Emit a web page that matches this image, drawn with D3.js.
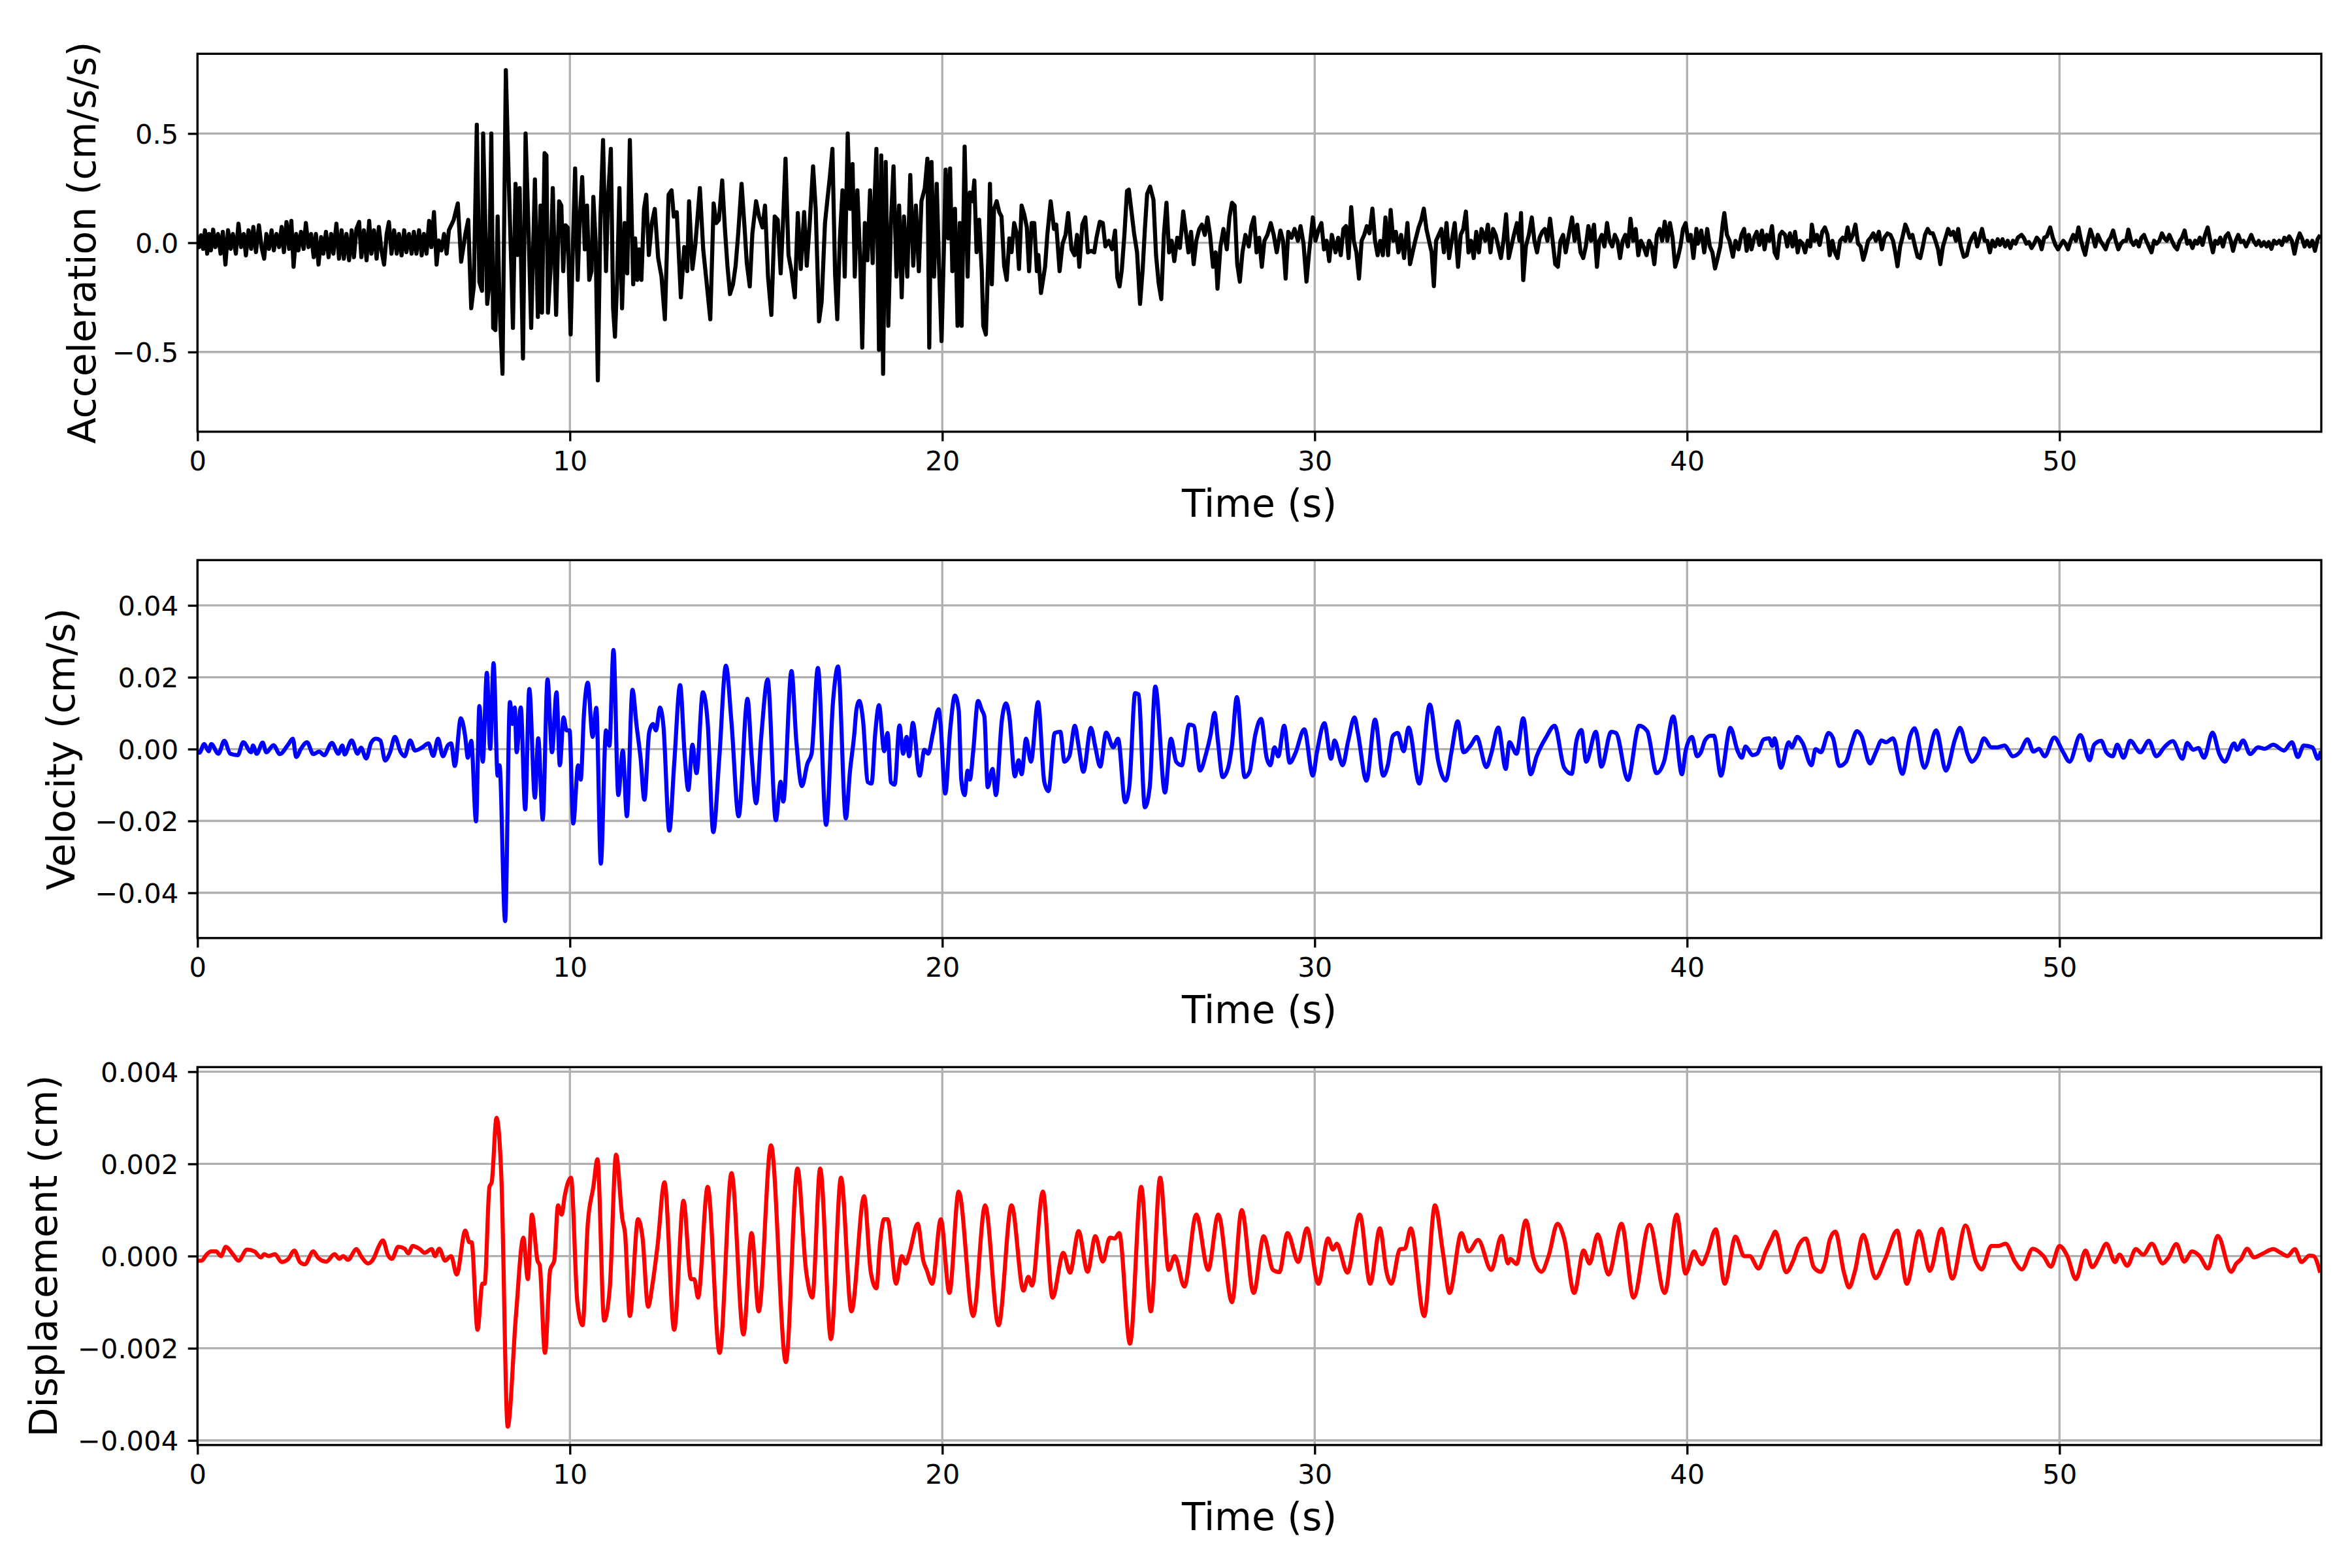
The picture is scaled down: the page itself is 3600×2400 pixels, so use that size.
<!DOCTYPE html>
<html>
<head>
<meta charset="utf-8">
<script src="https://cdnjs.cloudflare.com/ajax/libs/d3/7.8.5/d3.min.js"></script>
<style>
  body { margin: 0; background: #ffffff; }
  text { font-family: "DejaVu Sans", sans-serif; }
</style>
</head>
<body>
<div id="chart"></div>
<script>
// ---- data, [time (s), value] ----

var timeTicks = [0, 10, 20, 30, 40, 50];
var timeMax = 57.03;

var accTicks = [-0.5, 0, 0.5];
var accLimit = 0.865;
var velTicks = [-0.04, -0.02, 0, 0.02, 0.04];
var velLimit = 0.0526;
var dispTicks = [-0.004, -0.002, 0, 0.002, 0.004];
var dispLimit = 0.0041;

// acceleration, pre-event noise
var accPre = [[0,0],[0.04,-0.02],[0.09,0.034],[0.15,-0.028],[0.2,0.057],[0.26,-0.05],[0.31,0.04],[0.36,-0.035],[0.42,0.06],[0.48,-0.02],[0.55,0.04],[0.62,-0.05],[0.68,0.05],[0.75,-0.1],[0.82,0.057],[0.89,-0.028],[0.95,0.04],[1.03,-0.05],[1.1,0.087],[1.17,-0.02],[1.24,0.04],[1.3,-0.058],[1.37,0.057],[1.44,-0.028],[1.5,0.072],[1.57,-0.043],[1.65,0.08],[1.72,-0.02],[1.79,-0.073],[1.85,0.04],[1.92,-0.028],[1.99,0.057],[2.05,-0.035],[2.12,0.04],[2.19,-0.02],[2.26,0.072],[2.32,-0.043],[2.39,0.095],[2.46,-0.028],[2.52,0.1],[2.58,-0.11],[2.65,0.04],[2.71,-0.035],[2.78,0.05],[2.85,-0.028],[2.91,0.09],[2.98,-0.02],[3.05,0.04],[3.12,-0.066],[3.18,0.04],[3.25,-0.1],[3.32,0.026],[3.38,-0.05],[3.45,0.05],[3.52,-0.066],[3.59,0.04],[3.65,-0.05],[3.73,0.087],[3.8,-0.073],[3.87,0.057],[3.93,-0.073],[4.0,0.04],[4.07,-0.08],[4.14,0.057],[4.2,-0.066],[4.27,0.064],[4.34,0.095],[4.4,-0.066],[4.47,0.057],[4.54,-0.08],[4.61,0.1],[4.67,-0.05],[4.74,0.057],[4.81,-0.073],[4.87,0.072],[4.94,-0.035],[5.01,-0.1],[5.08,0.04],[5.14,0.095],[5.21,-0.05],[5.28,0.057],[5.35,-0.05],[5.41,0.04],[5.48,-0.058],[5.55,0.057],[5.61,-0.043],[5.68,0.04],[5.75,-0.05],[5.81,0.05],[5.88,-0.05],[5.95,0.057],[6.02,-0.058],[6.08,0.04],[6.15,-0.05],[6.22,0.1],[6.28,-0.02],[6.35,0.14],[6.42,-0.1],[6.48,0.01],[6.55,-0.035],[6.62,0.04],[6.69,-0.05],[6.75,0.057]];

// acceleration, strong motion
var accMain = [[6.88,0.105],[6.99,0.18],[7.08,-0.087],[7.19,0.037],[7.27,0.105],[7.35,-0.3],[7.42,-0.2],[7.5,0.54],[7.57,-0.18],[7.64,-0.22],[7.67,0.5],[7.78,-0.28],[7.83,-0.2],[7.89,0.5],[7.94,-0.39],[8.0,-0.4],[8.06,0.12],[8.11,-0.28],[8.19,-0.6],[8.28,0.79],[8.36,0.27],[8.43,-0.13],[8.47,-0.39],[8.54,0.27],[8.59,-0.056],[8.65,0.25],[8.74,-0.53],[8.81,0.5],[8.9,-0.006],[8.96,-0.39],[9.06,0.29],[9.14,-0.34],[9.21,0.17],[9.25,-0.32],[9.32,0.41],[9.37,0.4],[9.41,-0.32],[9.48,-0.12],[9.54,0.25],[9.63,-0.33],[9.71,0.19],[9.77,0.17],[9.82,-0.13],[9.88,0.08],[9.94,0.07],[10.02,-0.42],[10.07,-0.08],[10.14,0.34],[10.21,-0.17],[10.26,0.09],[10.33,0.3],[10.4,-0.03],[10.46,0.17],[10.52,-0.17],[10.58,-0.13],[10.63,0.21],[10.69,0.006],[10.75,-0.63],[10.82,0.12],[10.89,0.47],[10.97,-0.13],[11.02,0.19],[11.1,0.43],[11.16,-0.3],[11.21,-0.43],[11.27,-0.17],[11.33,0.25],[11.4,-0.3],[11.47,0.09],[11.54,-0.14],[11.61,0.47],[11.7,-0.19],[11.75,0.02],[11.81,-0.17],[11.86,-0.03],[11.92,-0.17],[11.99,0.155],[12.05,0.22],[12.12,-0.056],[12.2,0.09],[12.28,0.155],[12.37,-0.07],[12.46,-0.155],[12.55,-0.35],[12.65,0.22],[12.73,0.24],[12.79,0.12],[12.87,0.14],[12.98,-0.25],[13.07,-0.02],[13.15,-0.13],[13.2,0.19],[13.29,-0.12],[13.37,-0.006],[13.49,0.25],[13.58,-0.03],[13.67,-0.18],[13.77,-0.35],[13.86,0.18],[13.93,0.09],[14.0,0.105],[14.09,0.285],[14.16,0.07],[14.23,-0.105],[14.3,-0.235],[14.38,-0.19],[14.45,-0.105],[14.52,0.043],[14.61,0.27],[14.69,0.07],[14.75,-0.093],[14.83,-0.2],[14.9,0.043],[15.0,0.19],[15.08,0.12],[15.17,0.07],[15.24,0.17],[15.32,-0.155],[15.41,-0.33],[15.5,0.12],[15.58,0.105],[15.66,-0.14],[15.73,0.12],[15.79,0.385],[15.87,-0.056],[15.95,-0.13],[16.04,-0.25],[16.12,0.136],[16.2,-0.12],[16.29,0.14],[16.36,-0.105],[16.44,0.09],[16.53,0.35],[16.6,0.155],[16.69,-0.36],[16.76,-0.27],[16.85,0.09],[16.91,0.19],[16.98,0.3],[17.05,0.43],[17.12,-0.14],[17.18,-0.35],[17.25,0.02],[17.32,0.24],[17.38,-0.155],[17.46,0.5],[17.52,0.155],[17.59,0.36],[17.65,-0.155],[17.72,0.24],[17.79,-0.056],[17.85,-0.48],[17.92,0.09],[17.99,-0.08],[18.06,0.24],[18.13,-0.093],[18.19,0.24],[18.23,0.43],[18.3,-0.49],[18.36,0.4],[18.41,-0.6],[18.48,0.37],[18.55,-0.38],[18.62,0.09],[18.69,0.35],[18.77,-0.155],[18.84,0.17],[18.91,-0.25],[18.97,0.12],[19.06,-0.155],[19.14,0.31],[19.22,-0.105],[19.29,0.17],[19.37,-0.13],[19.44,0.19],[19.53,0.25],[19.6,0.385],[19.65,-0.48],[19.71,0.37],[19.78,-0.155],[19.85,0.27],[19.91,-0.093],[19.98,-0.45],[20.05,0.02],[20.09,0.335],[20.16,0.02],[20.21,0.34],[20.27,-0.13],[20.34,0.155],[20.41,-0.38],[20.47,0.09],[20.52,-0.38],[20.6,0.44],[20.68,-0.155],[20.74,0.23],[20.81,0.19],[20.86,0.285],[20.92,-0.043],[20.99,0.105],[21.06,-0.13],[21.1,-0.38],[21.17,-0.42],[21.24,-0.043],[21.28,0.27],[21.33,-0.19],[21.39,0.155],[21.46,0.19],[21.53,0.14],[21.59,0.12],[21.66,-0.105],[21.73,-0.17],[21.8,0.02],[21.86,-0.043],[21.93,0.09],[22.0,0.043],[22.06,-0.12],[22.13,0.17],[22.2,0.13],[22.27,0.07],[22.33,-0.13],[22.4,0.09],[22.47,0.09],[22.54,-0.13],[22.58,-0.056],[22.65,-0.23]];

// acceleration, coda 22.7 - 40 s
var accCoda = [[22.76,-0.11],[22.82,0.036],[22.91,0.19],[23.0,0.063],[23.06,0.083],[23.15,-0.13],[23.23,-0.004],[23.31,0.036],[23.38,0.136],[23.47,-0.03],[23.55,-0.057],[23.62,0.036],[23.68,-0.11],[23.76,0.083],[23.84,0.116],[23.91,-0.044],[24.0,-0.037],[24.08,-0.044],[24.14,0.023],[24.23,0.096],[24.31,0.09],[24.38,-0.017],[24.47,0.009],[24.56,-0.03],[24.64,0.056],[24.7,-0.16],[24.76,-0.2],[24.82,-0.124],[24.89,0.036],[24.96,0.237],[25.01,0.243],[25.08,0.143],[25.15,0.043],[25.23,-0.044],[25.31,-0.28],[25.38,-0.124],[25.44,0.063],[25.5,0.223],[25.58,0.257],[25.67,0.197],[25.74,-0.057],[25.81,-0.185],[25.88,-0.258],[25.95,0.036],[26.02,0.183],[26.09,-0.044],[26.16,0.009],[26.23,-0.084],[26.31,0.023],[26.38,-0.024],[26.47,0.143],[26.54,0.05],[26.61,-0.044],[26.68,0.05],[26.75,-0.098],[26.82,0.009],[26.9,0.063],[26.97,0.083],[27.05,0.036],[27.12,0.116],[27.19,0.036],[27.27,-0.11],[27.34,-0.044],[27.39,-0.21],[27.47,-0.017],[27.55,0.063],[27.64,-0.03],[27.71,0.116],[27.78,0.183],[27.85,0.17],[27.92,-0.098],[27.99,-0.178],[28.06,-0.044],[28.14,0.036],[28.23,-0.017],[28.3,0.076],[28.37,0.116],[28.44,-0.044],[28.51,0.023],[28.58,-0.11],[28.65,0.009],[28.73,0.036],[28.82,0.09],[28.9,0.036],[28.98,-0.044],[29.08,0.056],[29.15,0.009],[29.22,-0.164],[29.29,0.05],[29.38,0.023],[29.46,0.063],[29.55,0.009],[29.62,0.076],[29.7,-0.004],[29.78,-0.178],[29.85,-0.044],[29.95,0.116],[30.02,0.009],[30.11,0.063],[30.18,0.09],[30.25,-0.03],[30.32,0.009],[30.39,-0.084],[30.46,0.036],[30.56,-0.044],[30.63,0.023],[30.7,-0.057],[30.77,0.063],[30.84,0.076],[30.91,-0.07],[30.98,0.163],[31.05,0.009],[31.12,-0.044],[31.19,-0.164],[31.26,0.009],[31.33,0.036],[31.4,0.076],[31.47,0.043],[31.55,0.156],[31.62,0.009],[31.69,-0.057],[31.76,0.009],[31.83,-0.057],[31.9,0.116],[31.97,-0.057],[32.04,0.15],[32.11,0.009],[32.18,0.05],[32.25,-0.044],[32.32,0.036],[32.4,-0.07],[32.49,0.09],[32.56,-0.098],[32.63,-0.044],[32.7,0.009],[32.79,0.07],[32.86,0.103],[32.93,0.156],[33.0,0.063],[33.07,0.009],[33.14,-0.044],[33.2,-0.198],[33.26,0.009],[33.33,0.036],[33.4,0.063],[33.47,-0.044],[33.54,0.09],[33.61,-0.07],[33.68,0.009],[33.76,0.09],[33.85,-0.11],[33.92,0.036],[33.99,0.063],[34.06,0.143],[34.13,-0.044],[34.2,0.009],[34.27,-0.07],[34.34,0.05],[34.41,-0.044],[34.48,0.063],[34.58,0.009],[34.65,0.083],[34.72,-0.044],[34.79,0.063],[34.86,0.036],[34.93,-0.017],[35.0,-0.07],[35.07,0.009],[35.14,0.13],[35.21,-0.07],[35.28,-0.017],[35.35,0.036],[35.43,0.09],[35.5,0.009],[35.54,0.136],[35.6,-0.171],[35.67,-0.017],[35.75,0.036],[35.83,0.116],[35.9,0.009],[35.97,-0.044],[36.04,0.023],[36.11,0.05],[36.18,0.063],[36.25,0.009],[36.32,0.11],[36.39,0.009],[36.46,-0.098],[36.53,-0.11],[36.6,0.009],[36.67,0.036],[36.74,-0.044],[36.81,0.023],[36.91,0.116],[36.98,0.009],[37.05,0.083],[37.14,-0.044],[37.21,-0.07],[37.28,-0.017],[37.35,0.076],[37.42,0.009],[37.5,0.083],[37.58,-0.11],[37.64,0.009],[37.71,0.036],[37.78,-0.017],[37.85,0.09],[37.92,0.009],[37.99,-0.017],[38.06,0.036],[38.13,0.009],[38.2,-0.07],[38.27,0.009],[38.34,0.036],[38.41,-0.017],[38.48,0.11],[38.55,0.009],[38.62,0.063],[38.69,-0.057],[38.76,0.009],[38.83,-0.017],[38.91,-0.057],[38.98,0.009],[39.05,-0.017],[39.12,-0.098],[39.19,0.036],[39.26,0.063],[39.33,0.009],[39.4,0.096],[39.47,0.009],[39.54,0.09],[39.61,0.023],[39.68,-0.11],[39.75,-0.07],[39.82,-0.017],[39.89,0.063],[39.96,0.09],[40.03,0.009],[40.1,0.036],[40.17,-0.07],[40.25,0.063]];

// acceleration, tail 40 - 57 s
var accTail = [[40.29,-0.004],[40.38,0.056],[40.46,-0.044],[40.54,0.063],[40.61,-0.017],[40.68,-0.044],[40.75,-0.118],[40.82,-0.07],[40.89,-0.017],[40.96,0.09],[41.0,0.136],[41.07,0.036],[41.14,0.009],[41.23,-0.064],[41.3,0.009],[41.38,-0.03],[41.46,0.036],[41.53,0.063],[41.6,-0.037],[41.66,0.036],[41.73,-0.03],[41.8,0.023],[41.87,0.05],[41.94,-0.01],[42.01,0.056],[42.08,-0.03],[42.14,0.036],[42.21,0.009],[42.28,0.076],[42.35,-0.044],[42.42,-0.07],[42.49,0.036],[42.55,0.05],[42.63,0.036],[42.69,-0.017],[42.76,0.043],[42.83,-0.017],[42.9,0.05],[42.97,-0.044],[43.03,0.009],[43.1,-0.004],[43.17,-0.044],[43.24,0.009],[43.31,-0.017],[43.35,0.083],[43.42,0.009],[43.49,0.036],[43.56,-0.01],[43.63,0.05],[43.7,0.07],[43.77,0.036],[43.83,-0.057],[43.9,0.009],[43.97,-0.044],[44.04,-0.07],[44.11,0.009],[44.18,0.023],[44.25,0.009],[44.31,0.07],[44.38,0.009],[44.45,0.036],[44.52,0.083],[44.59,-0.004],[44.66,-0.017],[44.73,-0.078],[44.79,-0.044],[44.86,0.009],[44.93,0.023],[45.0,0.043],[45.07,0.009],[45.15,0.05],[45.23,-0.03],[45.3,0.023],[45.38,0.043],[45.46,0.036],[45.53,0.009],[45.59,-0.044],[45.65,-0.108],[45.72,-0.017],[45.78,0.023],[45.86,0.083],[45.91,0.063],[45.98,0.023],[46.05,0.036],[46.12,-0.017],[46.19,-0.064],[46.26,-0.07],[46.33,-0.017],[46.39,0.036],[46.46,0.063],[46.53,0.043],[46.6,0.043],[46.67,0.009],[46.74,-0.03],[46.8,-0.098],[46.87,-0.017],[46.94,0.023],[47.01,0.063],[47.08,0.036],[47.15,0.05],[47.22,0.009],[47.28,0.063],[47.35,-0.017],[47.43,-0.064],[47.51,-0.057],[47.58,-0.004],[47.65,0.023],[47.72,0.043],[47.79,-0.017],[47.86,0.023],[47.92,0.063],[47.99,0.009],[48.06,0.009],[48.13,-0.044],[48.2,0.009],[48.27,-0.017],[48.34,0.016],[48.4,-0.01],[48.47,0.016],[48.54,-0.017],[48.61,0.009],[48.68,-0.024],[48.75,0.009],[48.82,-0.004],[48.88,0.023],[48.98,0.036],[49.04,0.023],[49.11,-0.004],[49.18,0.003],[49.25,-0.024],[49.32,-0.004],[49.39,0.023],[49.46,0.009],[49.52,-0.03],[49.59,0.023],[49.66,0.029],[49.75,0.07],[49.82,0.023],[49.89,-0.01],[49.96,-0.03],[50.03,-0.01],[50.1,0.009],[50.16,-0.004],[50.23,-0.03],[50.3,0.009],[50.37,0.036],[50.44,0.009],[50.51,0.07],[50.58,0.009],[50.64,-0.03],[50.69,-0.055],[50.76,0.009],[50.83,0.06],[50.9,0.023],[50.96,-0.017],[51.03,0.036],[51.1,0.009],[51.17,-0.01],[51.24,-0.03],[51.31,0.009],[51.37,0.023],[51.44,0.056],[51.51,0.009],[51.58,-0.03],[51.65,-0.004],[51.72,0.009],[51.79,0.009],[51.85,0.06],[51.92,0.009],[51.99,-0.01],[52.06,0.009],[52.13,-0.017],[52.2,0.023],[52.27,0.036],[52.33,0.009],[52.4,-0.017],[52.47,-0.044],[52.54,0.009],[52.61,-0.004],[52.68,0.009],[52.75,0.043],[52.81,0.023],[52.88,0.009],[52.95,0.036],[53.02,0.009],[53.09,-0.017],[53.16,-0.03],[53.23,0.009],[53.29,0.023],[53.36,0.056],[53.43,-0.004],[53.5,0.009],[53.57,-0.024],[53.64,0.009],[53.7,-0.004],[53.77,0.023],[53.84,-0.01],[53.91,0.036],[53.98,0.07],[54.05,0.009],[54.12,-0.044],[54.18,0.009],[54.25,-0.004],[54.32,0.023],[54.39,-0.017],[54.46,0.029],[54.53,0.043],[54.6,0.009],[54.66,-0.037],[54.73,0.009],[54.8,0.036],[54.87,0.003],[54.94,0.009],[55.01,-0.017],[55.08,0.009],[55.15,0.036],[55.21,0.009],[55.28,-0.01],[55.35,0.009],[55.42,-0.015],[55.49,0.003],[55.56,-0.017],[55.62,0.003],[55.69,-0.028],[55.76,0.009],[55.83,-0.004],[55.9,0.009],[55.97,-0.01],[56.04,0.023],[56.1,0.009],[56.17,0.029],[56.24,0.009],[56.31,-0.05],[56.38,0.009],[56.45,0.043],[56.52,0.016],[56.58,-0.017],[56.65,0.009],[56.72,-0.017],[56.79,0.009],[56.86,-0.037],[56.93,0.016],[57.0,0.036]];

// velocity 0 - 20 s
var velEarly = [[0,-0.0005],[0.05,-0.001],[0.18,0.0014],[0.3,-0.0006],[0.37,0.0014],[0.56,-0.0013],[0.72,0.0023],[0.88,-0.0013],[1.08,-0.0017],[1.23,0.0019],[1.44,-0.0009],[1.49,0.001],[1.59,-0.0013],[1.75,0.0018],[1.85,-0.0009],[2.04,0.0011],[2.21,-0.0014],[2.43,0.0012],[2.56,0.0029],[2.65,-0.0022],[2.78,0.0001],[2.94,0.0019],[3.11,-0.0014],[3.27,-0.0007],[3.4,-0.0017],[3.61,0.0017],[3.78,-0.0013],[3.89,0.001],[3.95,-0.0015],[4.14,0.0024],[4.3,-0.0013],[4.39,0.0004],[4.53,-0.0026],[4.66,0.0017],[4.79,0.0029],[4.91,0.0024],[5.04,-0.0032],[5.17,-0.0009],[5.3,0.0034],[5.46,-0.0009],[5.56,-0.002],[5.71,0.0024],[5.84,-0.0004],[6.04,0.0005],[6.2,0.0016],[6.33,-0.0019],[6.46,0.0029],[6.59,-0.002],[6.72,0.001],[6.81,0.0016],[6.91,-0.0047],[7.07,0.0086],[7.19,0.0034],[7.26,-0.0024],[7.35,0.0023],[7.48,-0.0201],[7.57,0.012],[7.66,-0.0035],[7.77,0.0212],[7.86,0.0001],[7.95,0.0239],[8.06,-0.0074],[8.11,-0.0045],[8.26,-0.0479],[8.39,0.0131],[8.46,0.007],[8.52,0.0116],[8.57,-0.0009],[8.68,0.0116],[8.8,-0.0168],[8.91,0.0167],[9.06,-0.0135],[9.15,0.003],[9.27,-0.0196],[9.4,0.0194],[9.52,-0.0009],[9.64,0.0158],[9.73,-0.0045],[9.83,0.0088],[9.91,0.0052],[9.99,0.0052],[10.09,-0.0207],[10.22,-0.0045],[10.29,-0.0085],[10.38,0.0102],[10.48,0.0185],[10.61,0.0034],[10.71,0.0115],[10.83,-0.0319],[10.97,0.0052],[11.06,0.0009],[11.17,0.0276],[11.3,-0.0128],[11.42,-0.0004],[11.53,-0.0187],[11.68,0.0165],[11.79,0.0066],[11.9,-0.0027],[12.0,-0.0141],[12.13,0.0048],[12.23,0.007],[12.31,0.0052],[12.42,0.0116],[12.51,0.0066],[12.67,-0.0227],[12.8,-0.0042],[12.96,0.0178],[13.08,-0.0013],[13.18,-0.0114],[13.29,0.0012],[13.4,-0.0067],[13.57,0.0158],[13.7,0.0073],[13.85,-0.0231],[14.01,-0.0027],[14.19,0.0232],[14.34,0.0073],[14.53,-0.0187],[14.77,0.014],[14.88,-0.002],[15.0,-0.0151],[15.14,0.0037],[15.31,0.0194],[15.53,-0.0198],[15.66,-0.0091],[15.73,-0.0146],[15.95,0.0217],[16.08,0.0023],[16.23,-0.0103],[16.38,-0.004],[16.49,-0.0013],[16.66,0.0226],[16.88,-0.0211],[17.07,0.0138],[17.2,0.023],[17.41,-0.0193],[17.52,-0.0063],[17.64,0.0045],[17.69,0.0106],[17.77,0.0134],[17.87,0.0081],[18.0,-0.0092],[18.1,-0.0096],[18.2,0.0045],[18.3,0.0122],[18.44,-0.0006],[18.53,0.0045],[18.62,-0.0092],[18.72,-0.0099],[18.85,0.0066],[18.95,-0.0013],[19.04,0.0034],[19.11,-0.002],[19.21,0.0073],[19.39,-0.0074],[19.52,-0.0002],[19.62,-0.0013],[19.75,0.0045],[19.9,0.0111],[19.95,0.0073]];

// velocity 20 - 57 s
var velLate = [[20.08,-0.0124],[20.21,0.0052],[20.34,0.0149],[20.44,0.0109],[20.51,-0.0085],[20.6,-0.0128],[20.68,-0.006],[20.74,-0.0085],[20.83,-0.0006],[20.96,0.0134],[21.06,0.0109],[21.13,0.0091],[21.22,-0.0106],[21.35,-0.0055],[21.44,-0.0128],[21.6,0.0081],[21.71,0.0127],[21.8,0.0091],[21.95,-0.0076],[22.05,-0.0031],[22.13,-0.007],[22.25,0.0029],[22.38,-0.0035],[22.57,0.0131],[22.74,-0.0092],[22.85,-0.0117],[23.02,0.0045],[23.17,0.0048],[23.28,-0.0035],[23.41,-0.002],[23.56,0.0065],[23.66,0.0009],[23.79,-0.0063],[23.99,0.0059],[24.11,0.0005],[24.24,-0.0049],[24.4,0.0046],[24.59,0.0005],[24.72,0.0029],[24.91,-0.0148],[25.02,-0.0106],[25.18,0.0156],[25.27,0.0152],[25.44,-0.0162],[25.57,-0.0106],[25.72,0.0174],[25.98,-0.0121],[26.14,0.0029],[26.28,-0.0035],[26.43,-0.0045],[26.63,0.0068],[26.75,0.0065],[26.92,-0.006],[27.08,-0.0014],[27.2,0.0037],[27.31,0.0101],[27.4,0.0023],[27.53,-0.0078],[27.68,-0.005],[27.78,0.0012],[27.91,0.0145],[28.12,-0.0078],[28.25,-0.0063],[28.4,0.0037],[28.56,0.0084],[28.71,-0.0024],[28.81,-0.0045],[28.92,0.0005],[29.02,-0.002],[29.18,0.0065],[29.33,-0.0038],[29.48,-0.0012],[29.72,0.0055],[29.95,-0.0074],[30.06,-0.0009],[30.26,0.0072],[30.44,-0.0027],[30.53,0.0024],[30.75,-0.0045],[30.9,0.0023],[31.07,0.0088],[31.16,0.0045],[31.39,-0.0088],[31.62,0.0082],[31.84,-0.0074],[31.97,-0.0042],[32.1,0.0037],[32.23,0.0045],[32.39,-0.0006],[32.52,0.006],[32.81,-0.0096],[33.09,0.0124],[33.32,-0.0035],[33.52,-0.0088],[33.67,-0.0009],[33.84,0.0077],[34.0,-0.0009],[34.2,0.0012],[34.35,0.0034],[34.61,-0.005],[34.74,-0.0013],[34.93,0.006],[35.13,-0.0055],[35.23,0.0019],[35.42,-0.0013],[35.6,0.0086],[35.8,-0.007],[35.96,-0.002],[36.22,0.0034],[36.44,0.0065],[36.7,-0.0052],[36.9,-0.0069],[37.03,0.0023],[37.16,0.0053],[37.29,-0.0035],[37.55,0.0048],[37.7,-0.0049],[37.96,0.0048],[38.09,0.0045],[38.41,-0.0086],[38.71,0.0065],[38.93,0.005],[39.18,-0.0067],[39.38,-0.0035],[39.63,0.0091],[39.86,-0.007],[39.96,-0.0006],[40.13,0.0034],[40.27,-0.002],[40.37,-0.0009],[40.48,0.0024],[40.63,0.0037],[40.72,0.0037],[40.91,-0.0074],[41.16,0.0059],[41.36,-0.0006],[41.47,-0.0024],[41.57,0.0007],[41.76,-0.0017],[41.88,-0.0013],[42.06,0.0027],[42.2,0.003],[42.29,0.0009],[42.35,0.003],[42.52,-0.0052],[42.73,0.0019],[42.81,0.0005],[42.96,0.0034],[43.1,0.0017],[43.34,-0.0045],[43.45,0.0],[43.59,-0.0009],[43.8,0.0045],[43.92,0.003],[44.09,-0.0047],[44.27,-0.0035],[44.41,0.0012],[44.56,0.005],[44.68,0.0037],[44.91,-0.004],[45.08,-0.0006],[45.22,0.0024],[45.34,0.0019],[45.53,0.003],[45.78,-0.0069],[45.99,0.0037],[46.11,0.0058],[46.37,-0.0052],[46.69,0.0052],[46.95,-0.006],[47.2,0.0029],[47.33,0.0059],[47.53,-0.0013],[47.65,-0.0035],[47.82,-0.0013],[47.97,0.003],[48.17,0.0005],[48.34,0.0005],[48.52,0.001],[48.75,-0.002],[48.93,-0.0009],[49.14,0.0027],[49.3,-0.0007],[49.45,0.0001],[49.6,-0.002],[49.86,0.0032],[50.09,-0.0007],[50.27,-0.0035],[50.56,0.0039],[50.81,-0.0031],[50.93,0.0012],[51.12,0.0023],[51.26,-0.0009],[51.43,-0.002],[51.55,0.0012],[51.72,-0.0024],[51.9,0.0023],[52.17,-0.0009],[52.4,0.0023],[52.6,-0.002],[52.83,0.0007],[53.04,0.0022],[53.3,-0.0027],[53.43,0.0017],[53.59,-0.0002],[53.73,0.0003],[53.88,-0.0024],[54.11,0.0046],[54.29,-0.0013],[54.44,-0.0035],[54.69,0.0016],[54.77,-0.0002],[54.93,0.0024],[55.12,-0.0014],[55.33,0.0005],[55.51,0.0001],[55.74,0.0012],[56.03,-0.0004],[56.24,0.0019],[56.4,-0.0022],[56.56,0.001],[56.79,0.0005],[56.94,-0.0027],[57.02,-0.0006]];

// displacement 0 - 20 s
var dispEarly = [[0,-0.0001],[0.11,-0.0001],[0.24,0.00003],[0.37,0.0001],[0.5,0.0001],[0.63,0],[0.76,0.0002],[0.95,0.00004],[1.1,-0.0001],[1.33,0.00014],[1.53,0.0001],[1.7,-0.00003],[1.79,0.00004],[1.91,0],[2.08,0.00004],[2.26,-0.00013],[2.43,-0.00007],[2.6,0.00012],[2.75,-0.00013],[2.88,-0.00018],[3.11,0.0001],[3.24,-0.00004],[3.46,-0.00012],[3.68,0.00004],[3.81,-0.00006],[3.91,0],[4.04,-0.00008],[4.27,0.00015],[4.39,0],[4.58,-0.00016],[4.75,-0.00002],[4.85,0.00018],[4.98,0.00034],[5.11,0.00003],[5.22,-0.00006],[5.39,0.0002],[5.56,0.00016],[5.66,0.00006],[5.78,0.00022],[5.97,0.00015],[6.1,0.00007],[6.29,0.00015],[6.38,0],[6.49,0.00016],[6.65,-0.0001],[6.81,0],[6.96,-0.0004],[7.19,0.00055],[7.3,0.0003],[7.36,0.0003],[7.52,-0.0016],[7.65,-0.0006],[7.71,-0.0006],[7.84,0.0015],[7.9,0.0016],[8.03,0.003],[8.16,0.0017],[8.33,-0.0037],[8.55,-0.0013],[8.75,0.0004],[8.87,-0.0005],[8.98,0.0009],[9.13,-0.0001],[9.19,-0.0002],[9.33,-0.0021],[9.47,-0.0003],[9.58,-0.0001],[9.68,0.0011],[9.78,0.0009],[9.86,0.0013],[10.03,0.0017],[10.2,-0.001],[10.34,-0.0015],[10.48,0.0007],[10.63,0.0015],[10.74,0.0021],[10.92,-0.0014],[11.07,-0.0007],[11.24,0.0022],[11.41,0.0008],[11.48,0.0005],[11.61,-0.0013],[11.83,0.0008],[11.95,0.0004],[12.1,-0.0011],[12.22,-0.0006],[12.35,0.0002],[12.54,0.0016],[12.8,-0.0016],[13.05,0.0012],[13.25,-0.0005],[13.34,-0.0005],[13.44,-0.0009],[13.7,0.0015],[14.02,-0.0021],[14.34,0.0018],[14.66,-0.0017],[14.88,0.0005],[15.07,-0.0012],[15.4,0.0024],[15.8,-0.0023],[16.11,0.0019],[16.34,-0.0003],[16.51,-0.0009],[16.72,0.0019],[17.01,-0.0018],[17.28,0.0017],[17.56,-0.0012],[17.9,0.0013],[18.08,-0.00035],[18.23,-0.0007],[18.33,0.0003],[18.44,0.0008],[18.53,0.0008],[18.76,-0.0006],[18.91,0],[19.02,-0.00016],[19.11,0.00004],[19.34,0.0007],[19.49,-0.0001],[19.58,-0.0003],[19.73,-0.0006],[19.96,0.0008]];

// displacement 20 - 57 s
var dispLate = [[20.19,-0.0008],[20.44,0.0014],[20.83,-0.0013],[21.15,0.0011],[21.51,-0.0015],[21.86,0.0011],[22.18,-0.00075],[22.31,-0.00045],[22.41,-0.00064],[22.7,0.0014],[22.96,-0.0009],[23.25,0.00007],[23.43,-0.00036],[23.66,0.00054],[23.9,-0.00034],[24.11,0.00043],[24.31,-0.00012],[24.5,0.0004],[24.63,0.00038],[24.75,0.0005],[25.04,-0.0019],[25.34,0.0015],[25.6,-0.0012],[25.85,0.0017],[26.08,-0.0003],[26.24,0],[26.5,-0.00066],[26.82,0.0009],[27.14,-0.0003],[27.41,0.0009],[27.78,-0.001],[28.04,0.001],[28.36,-0.0008],[28.63,0.00043],[28.88,-0.0003],[29.05,-0.00035],[29.27,0.0005],[29.56,-0.00013],[29.79,0.0006],[30.1,-0.0006],[30.36,0.00038],[30.49,0.00014],[30.59,0.00027],[30.88,-0.00036],[31.21,0.0009],[31.49,-0.0006],[31.75,0.0006],[31.93,-0.00035],[32.06,-0.0006],[32.29,0.00015],[32.42,0.00016],[32.58,0.0006],[32.94,-0.0013],[33.23,0.0011],[33.45,0.00004],[33.62,-0.0008],[33.94,0.0005],[34.13,0.0001],[34.39,0.00035],[34.74,-0.0003],[35.02,0.00044],[35.19,-0.00016],[35.25,-0.00006],[35.42,-0.00017],[35.67,0.00077],[35.87,-0.00003],[36.09,-0.00034],[36.28,0],[36.52,0.0007],[36.7,0.00038],[36.97,-0.0008],[37.22,0.00012],[37.38,-0.00016],[37.6,0.00047],[37.89,-0.0004],[38.24,0.0007],[38.56,-0.0009],[38.99,0.00068],[39.4,-0.0008],[39.72,0.0009],[39.96,-0.00038],[40.19,0.0001],[40.29,-0.00006],[40.4,-0.00018],[40.54,0.00005],[40.77,0.00058],[41.01,-0.0006],[41.3,0.00042],[41.53,0],[41.68,0],[41.92,-0.00027],[42.11,0.0001],[42.27,0.00038],[42.37,0.00053],[42.66,-0.00035],[42.85,-0.0001],[42.99,0.00022],[43.19,0.00038],[43.4,-0.00024],[43.59,-0.00034],[43.71,-0.00013],[43.83,0.00035],[43.98,0.00053],[44.21,-0.00035],[44.35,-0.00068],[44.5,-0.00035],[44.73,0.00046],[45.06,-0.00048],[45.32,-0.00006],[45.64,0.00055],[45.9,-0.0006],[46.23,0.00054],[46.52,-0.00032],[46.83,0.00059],[47.12,-0.00049],[47.48,0.00066],[47.76,-0.00013],[47.91,-0.00029],[48.17,0.00022],[48.37,0.00022],[48.55,0.00027],[48.81,-0.00013],[48.99,-0.00029],[49.28,0.00016],[49.57,0],[49.77,-0.00023],[50.0,0.00022],[50.21,0],[50.44,-0.0005],[50.7,0.00012],[50.88,-0.00024],[51.08,0.00001],[51.26,0.00027],[51.49,-0.00013],[51.61,0.00003],[51.82,-0.00021],[52.05,0.00015],[52.25,0.00003],[52.48,0.00027],[52.77,-0.00016],[52.92,-0.00004],[53.14,0.00026],[53.35,-0.00012],[53.56,0.0001],[53.76,0],[53.99,-0.00027],[54.25,0.00044],[54.61,-0.00034],[54.75,-0.00016],[54.87,-0.00007],[55.04,0.00016],[55.22,-0.00003],[55.45,0.00005],[55.74,0.00015],[55.92,0.00008],[56.12,0],[56.32,0.00015],[56.5,-0.00013],[56.71,0.00001],[56.82,0],[57.0,-0.00036]];

var accPoints = accPre.concat(accMain, accCoda, accTail);
var velPoints = velEarly.concat(velLate);
var dispPoints = dispEarly.concat(dispLate);

// ---- layout (matplotlib figure 12x8 in at 300 dpi) ----
var W = 3600, H = 2400;
var plotLeft = 302.3, plotRight = 3553, plotHeight = 578.5;
var panelTops = [82.3, 857.3, 1633.3];
var pt = 300 / 72; // px per point

var panels = [
  { points: accPoints, ticks: accTicks, limit: accLimit, fmt: ".1f", color: "#000000",
    label: "Acceleration (cm/s/s)", descent: 0.16, curve: d3.curveLinear },
  { points: velPoints, ticks: velTicks, limit: velLimit, fmt: ".2f", color: "#0000ff",
    label: "Velocity (cm/s)", descent: 0.26, curve: d3.curveMonotoneX },
  { points: dispPoints, ticks: dispTicks, limit: dispLimit, fmt: ".3f", color: "#ff0000",
    label: "Displacement (cm)", descent: 0.26, curve: d3.curveMonotoneX }
];

var svg = d3.select("#chart")
  .append("svg")
  .attr("width", W)
  .attr("height", H)
  .style("background", "#ffffff");

var x = d3.scaleLinear().domain([0, timeMax]).range([plotLeft, plotRight]);

panels.forEach(function(p, i) {
  var top = panelTops[i];
  var y = d3.scaleLinear()
    .domain([-p.limit, p.limit])
    .range([top + plotHeight, top]);

  var g = svg.append("g").attr("class", "panel");

  // clip for the trace
  svg.append("clipPath")
    .attr("id", "clip" + i)
    .append("rect")
    .attr("x", plotLeft)
    .attr("y", top)
    .attr("width", plotRight - plotLeft)
    .attr("height", plotHeight);

  // grid lines
  g.selectAll(".vgrid")
    .data(timeTicks)
    .enter()
    .append("line")
    .attr("class", "vgrid")
    .attr("x1", function(d) { return x(d); })
    .attr("x2", function(d) { return x(d); })
    .attr("y1", top)
    .attr("y2", top + plotHeight)
    .attr("stroke", "#b0b0b0")
    .attr("stroke-width", 0.8 * pt);

  g.selectAll(".hgrid")
    .data(p.ticks)
    .enter()
    .append("line")
    .attr("class", "hgrid")
    .attr("x1", plotLeft)
    .attr("x2", plotRight)
    .attr("y1", function(d) { return y(d); })
    .attr("y2", function(d) { return y(d); })
    .attr("stroke", "#b0b0b0")
    .attr("stroke-width", 0.8 * pt);

  // the trace
  var line = d3.line()
    .x(function(d) { return x(d[0]); })
    .y(function(d) { return y(d[1]); })
    .curve(p.curve);

  g.append("path")
    .datum(p.points)
    .attr("clip-path", "url(#clip" + i + ")")
    .attr("d", line)
    .attr("fill", "none")
    .attr("stroke", p.color)
    .attr("stroke-width", 1.5 * pt)
    .attr("stroke-linejoin", "round");

  // axes
  var xAxis = d3.axisBottom(x)
    .tickValues(timeTicks)
    .tickFormat(d3.format("d"))
    .tickSize(3.5 * pt)
    .tickSizeOuter(0)
    .tickPadding(15.5);

  var yAxis = d3.axisLeft(y)
    .tickValues(p.ticks)
    .tickFormat(d3.format(p.fmt))
    .tickSize(3.5 * pt)
    .tickSizeOuter(0)
    .tickPadding(3.5 * pt);

  var gx = g.append("g")
    .attr("transform", "translate(0," + (top + plotHeight) + ")")
    .call(xAxis);

  var gy = g.append("g")
    .attr("transform", "translate(" + plotLeft + ",0)")
    .call(yAxis);

  [gx, gy].forEach(function(ax) {
    ax.attr("font-size", null).attr("font-family", null);
    ax.select(".domain").remove();
    ax.selectAll(".tick line")
      .attr("stroke", "#000000")
      .attr("stroke-width", 0.8 * pt);
    ax.selectAll(".tick text")
      .attr("fill", "#000000")
      .style("font-size", (10 * pt) + "px")
      .style("font-family", "'DejaVu Sans', sans-serif");
  });
  gy.selectAll(".tick text").attr("dy", "0.365em");

  // spines
  g.append("rect")
    .attr("x", plotLeft)
    .attr("y", top)
    .attr("width", plotRight - plotLeft)
    .attr("height", plotHeight)
    .attr("fill", "none")
    .attr("stroke", "#000000")
    .attr("stroke-width", 0.8 * pt);

  // axis titles
  g.append("text")
    .text("Time (s)")
    .attr("x", (plotLeft + plotRight) / 2)
    .attr("y", top + plotHeight + 130)
    .attr("text-anchor", "middle")
    .style("font-size", (14 * pt) + "px");

  var tickLeft = d3.min(gy.selectAll(".tick text").nodes(), function(n) {
    return n.getBBox().x;
  }) + plotLeft;

  var labelX = tickLeft - 4 * pt - p.descent * 14 * pt;
  g.append("text")
    .text(p.label)
    .attr("text-anchor", "middle")
    .attr("transform", "translate(" + labelX + "," + (top + plotHeight / 2) + ") rotate(-90)")
    .style("font-size", (14 * pt) + "px");
});
</script>
</body>
</html>
